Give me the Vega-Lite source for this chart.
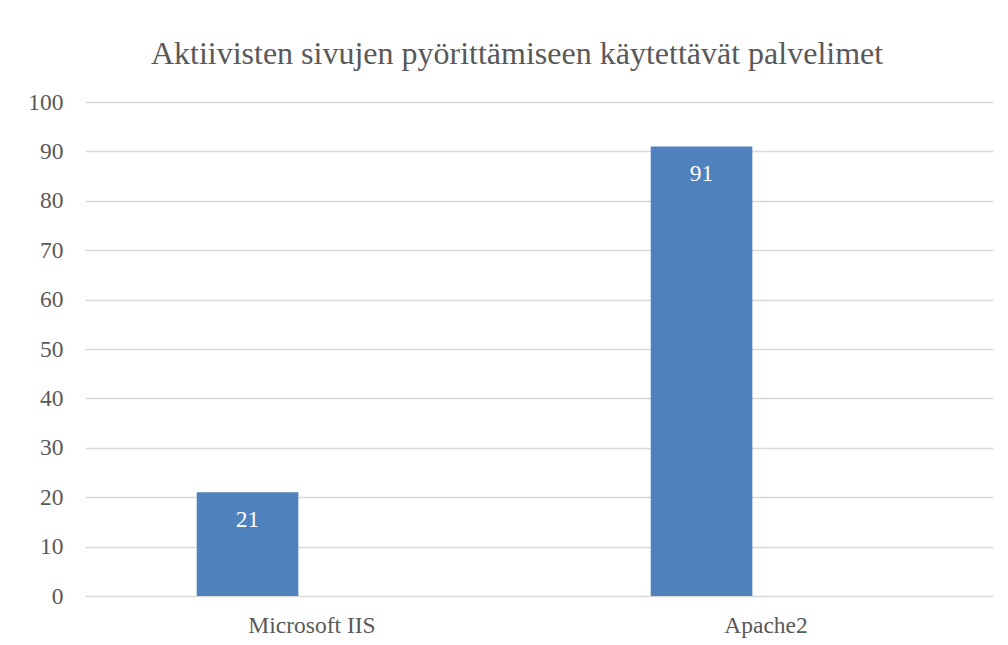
{
  "$schema": "https://vega.github.io/schema/vega-lite/v6.json",
  "autosize": {"type": "none"},
  "padding": {"left": 85, "top": 102, "right": 15, "bottom": 49},
  "width": 908,
  "height": 494,
  "background": "white",
  "title": {
    "text": "Aktiivisten sivujen pyörittämiseen käytettävät palvelimet",
    "font": "Liberation Serif",
    "fontSize": 32,
    "fontWeight": "normal",
    "color": "#595959",
    "anchor": "middle",
    "frame": "group",
    "baseline": "alphabetic",
    "offset": 40,
    "dy": 46,
    "dx": -22
  },
  "config": {
    "view": {"stroke": null},
    "axis": {
      "labelFont": "Liberation Serif",
      "labelFontSize": 23.5,
      "labelColor": "#595959",
      "gridColor": "#d9d9d9",
      "gridWidth": 1.3,
      "domain": false,
      "ticks": false,
      "title": null
    }
  },
  "data": {
    "values": [
      {"server": "Microsoft IIS", "series": "a", "value": 21},
      {"server": "Apache2", "series": "a", "value": 91}
    ]
  },
  "encoding": {
    "x": {
      "field": "server",
      "type": "nominal",
      "sort": ["Microsoft IIS", "Apache2"],
      "scale": {"paddingInner": 0, "paddingOuter": 0},
      "axis": {"labelAngle": 0, "labelPadding": 17, "grid": false}
    },
    "xOffset": {
      "field": "series",
      "type": "nominal",
      "scale": {"domain": ["a", "b", "c"], "paddingInner": 0, "paddingOuter": 0.734, "align": 0.749}
    },
    "y": {
      "field": "value",
      "type": "quantitative",
      "scale": {"domain": [0, 100], "nice": false},
      "axis": {"values": [0, 10, 20, 30, 40, 50, 60, 70, 80, 90, 100], "labelPadding": 22, "grid": true}
    }
  },
  "layer": [
    {"mark": {"type": "bar", "color": "#4f81bd"}},
    {
      "mark": {"type": "text", "color": "white", "font": "Liberation Serif", "fontSize": 23.5, "baseline": "alphabetic", "dy": 35},
      "encoding": {"text": {"field": "value", "type": "quantitative"}}
    }
  ]
}
